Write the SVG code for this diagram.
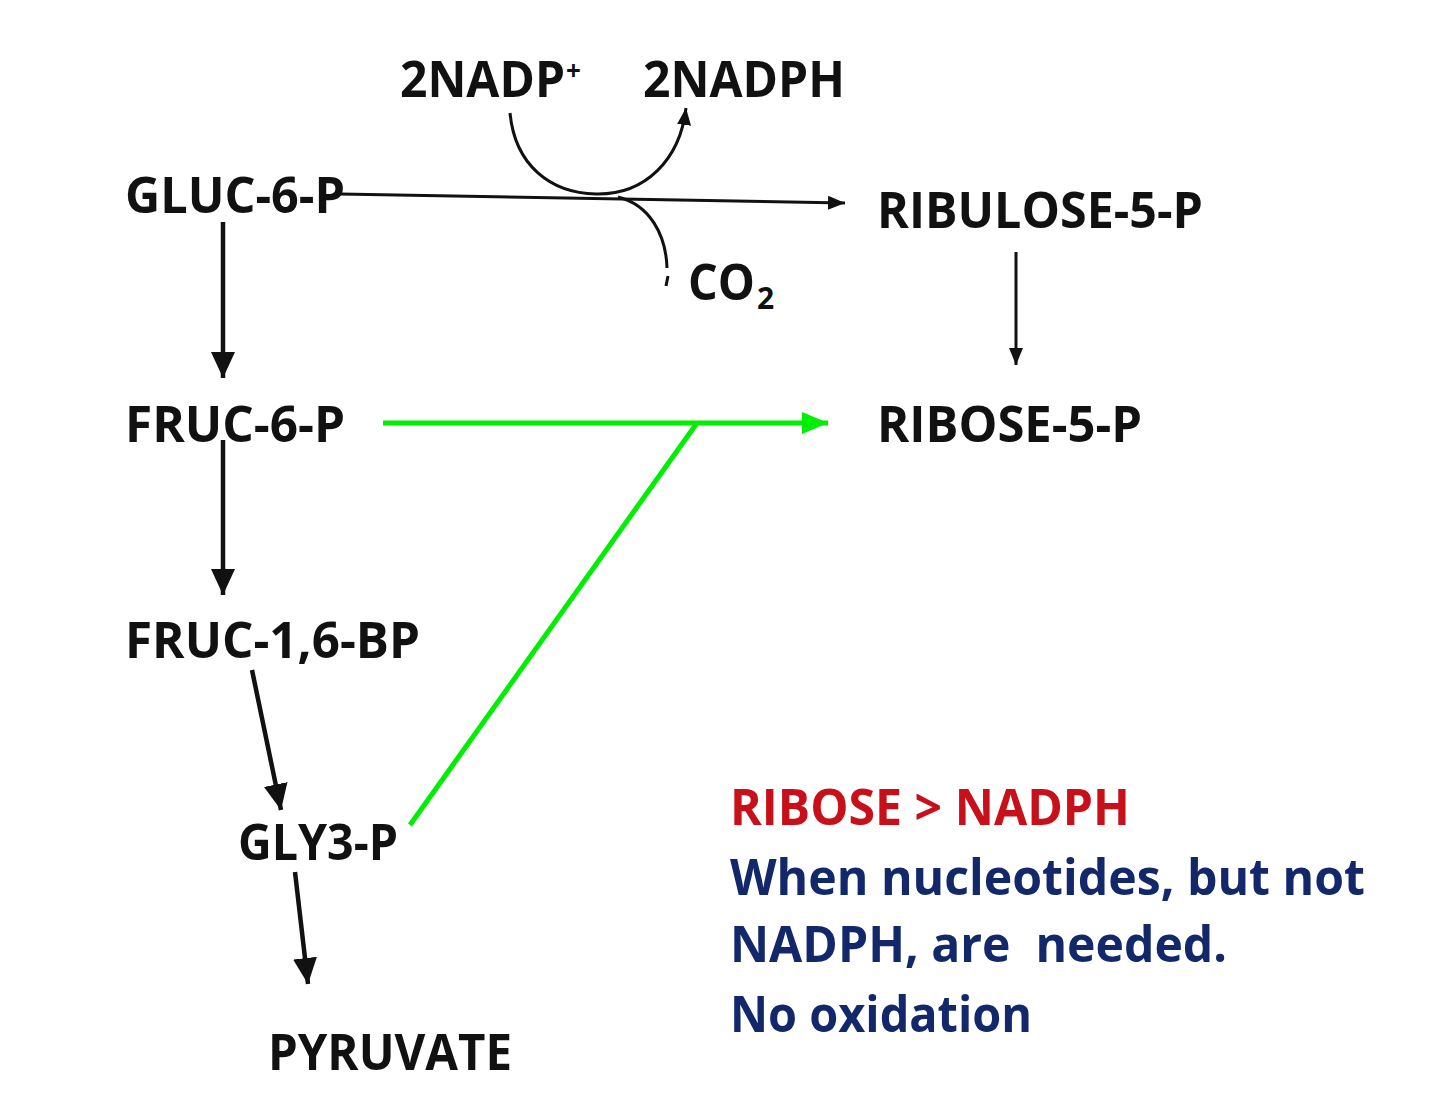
<svg xmlns="http://www.w3.org/2000/svg" width="1440" height="1105" viewBox="0 0 1440 1105">
<defs>
<style>
.t{font-family:"Open Sans","Liberation Sans",sans-serif;font-weight:bold;fill:#111}
.big{font-size:50px}
.red{fill:#c8101a}
.blue{fill:#13286a}
.k{fill:none;stroke:#111;stroke-width:4.5}
.kt{fill:none;stroke:#111;stroke-width:3}
.g{fill:none;stroke:#00ee00;stroke-width:5}
</style>
<marker id="ak" markerUnits="userSpaceOnUse" markerWidth="28" markerHeight="28" viewBox="0 0 28 28" refX="26" refY="14" orient="auto"><path d="M0,2 L26,14 L0,26 Z" fill="#111"/></marker>
<marker id="aks" markerUnits="userSpaceOnUse" markerWidth="18" markerHeight="18" viewBox="0 0 18 18" refX="17" refY="9" orient="auto"><path d="M0,2 L17,9 L0,16 Z" fill="#111"/></marker>
<marker id="ag" markerUnits="userSpaceOnUse" markerWidth="28" markerHeight="28" viewBox="0 0 28 28" refX="26" refY="14" orient="auto"><path d="M0,3 L26,14 L0,25 Z" fill="#00ee00"/></marker>
</defs>
<rect width="1440" height="1105" fill="#fff"/>
<g id="connectors">
<path class="kt" d="M340,194 L845,203" marker-end="url(#aks)"/>
<path class="kt" d="M510,113 C515,165 550,193 596,194 C645,195 680,160 686,108" marker-end="url(#aks)"/>
<path class="kt" d="M618,197 C650,205 666,235 667,268"/>
<path class="kt" d="M668,276 L666,286"/>
<path class="k" d="M223,222 L223,378" marker-end="url(#ak)"/>
<path class="k" d="M223,440 L223,595" marker-end="url(#ak)"/>
<path class="k" d="M252,670 L281,810" marker-end="url(#ak)"/>
<path class="k" d="M295,872 L308,984" marker-end="url(#ak)"/>
<path class="kt" d="M1016,252 L1016,365" marker-end="url(#aks)"/>
<path class="g" d="M383,423 L828,423" marker-end="url(#ag)"/>
<path class="g" d="M410,825 L697,423"/>
</g>
<g id="n-nadp"><text class="t big" x="400" y="97"><tspan textLength="165" lengthAdjust="spacingAndGlyphs">2NADP</tspan><tspan x="566" dy="-17" font-size="26">+</tspan></text></g>
<g id="n-nadph"><text class="t big" x="643" y="97" textLength="202" lengthAdjust="spacingAndGlyphs">2NADPH</text></g>
<g id="n-gluc6p"><text class="t big" x="125" y="213" textLength="220" lengthAdjust="spacingAndGlyphs">GLUC-6-P</text></g>
<g id="n-ribulose"><text class="t big" x="877" y="228" textLength="326" lengthAdjust="spacingAndGlyphs">RIBULOSE-5-P</text></g>
<g id="n-co2"><text class="t big" x="688" y="300"><tspan textLength="67" lengthAdjust="spacingAndGlyphs">CO</tspan><tspan x="757" dy="9" font-size="30">2</tspan></text></g>
<g id="n-fruc6p"><text class="t big" x="125" y="442" textLength="220" lengthAdjust="spacingAndGlyphs">FRUC-6-P</text></g>
<g id="n-ribose"><text class="t big" x="877" y="442" textLength="265" lengthAdjust="spacingAndGlyphs">RIBOSE-5-P</text></g>
<g id="n-fruc16bp"><text class="t big" x="125" y="658" textLength="295" lengthAdjust="spacingAndGlyphs">FRUC-1,6-BP</text></g>
<g id="n-gly3p"><text class="t big" x="238" y="860" textLength="160" lengthAdjust="spacingAndGlyphs">GLY3-P</text></g>
<g id="n-pyruvate"><text class="t big" x="268" y="1070" textLength="244" lengthAdjust="spacingAndGlyphs">PYRUVATE</text></g>
<g id="note">
<text class="t big red" x="730" y="825" textLength="400" lengthAdjust="spacingAndGlyphs">RIBOSE &gt; NADPH</text>
<text class="t big blue" x="730" y="895" textLength="635" lengthAdjust="spacingAndGlyphs">When nucleotides, but not</text>
<text class="t big blue" x="730" y="962" textLength="497" lengthAdjust="spacingAndGlyphs" xml:space="preserve">NADPH, are  needed.</text>
<text class="t big blue" x="730" y="1032" textLength="302" lengthAdjust="spacingAndGlyphs">No oxidation</text>
</g>
</svg>
